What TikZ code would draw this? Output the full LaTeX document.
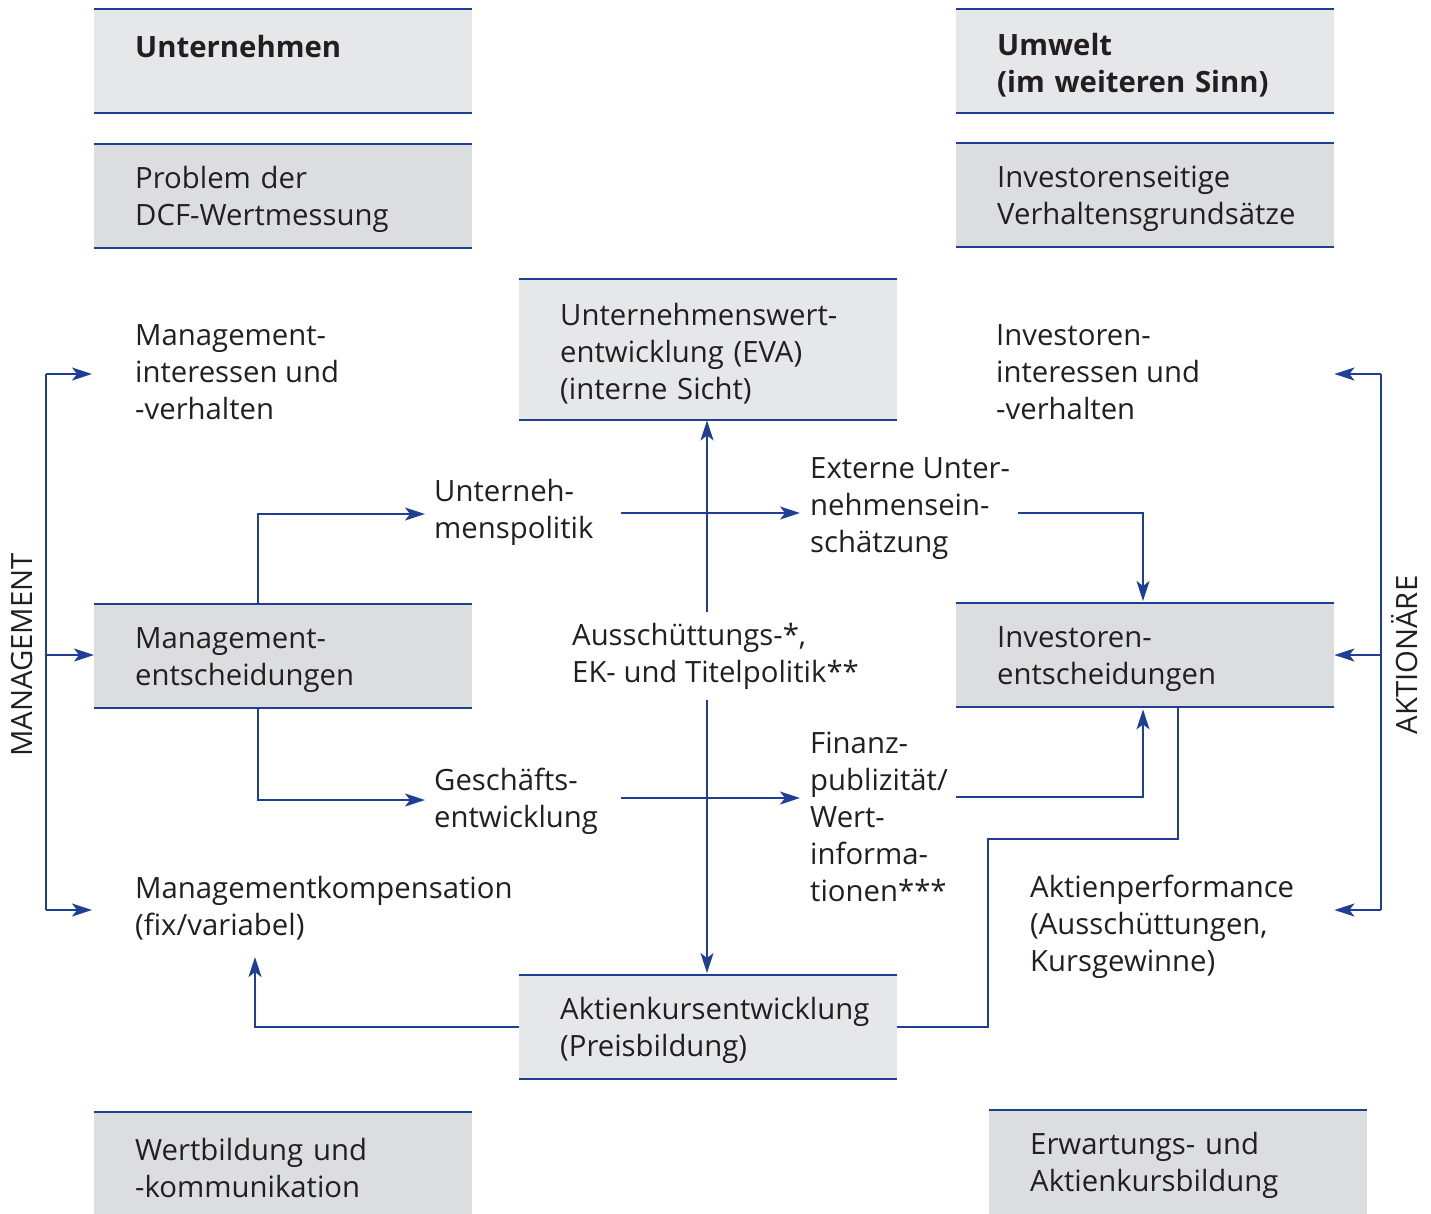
\documentclass[tikz,border=0pt]{standalone}
\usepackage{fontspec}
\setmainfont{Open Sans}
\usetikzlibrary{arrows.meta,calc}
\definecolor{bl}{HTML}{1F3E95}
\definecolor{gA}{HTML}{E6E7E8}
\definecolor{gB}{HTML}{DCDDDF}
\definecolor{tx}{HTML}{231F20}
\begin{document}
\begin{tikzpicture}[x=1pt,y=-1pt,
  font=\fontsize{29.3}{37}\selectfont, text=tx,
  box/.style={rectangle, anchor=north west, minimum width=378, minimum height=104,
    inner xsep=41, inner ysep=0, align=left, text width=296, fill=gA,
    execute at begin node={\hyphenpenalty=10000\exhyphenpenalty=10000\rule{0pt}{29.5pt}}},
  txt/.style={inner sep=0, align=left, anchor=west,
    execute at begin node={\hyphenpenalty=10000\exhyphenpenalty=10000}},
  bline/.style={draw=bl, line width=2},
  ln/.style={draw=bl, line width=1.8},
  arr/.style={draw=bl, line width=1.8, -{Stealth[length=20,width=13,inset=5]}}]
\useasboundingbox (0,0) rectangle (1431,1213);

% boxes
\node[box,fill=gA] (unt) at (94,9) {\textbf{Unternehmen}\\\mbox{}};
\node[box,fill=gB] (dcf) at (94,144) {Problem der\\DCF-Wertmessung};
\node[box,fill=gA] (umw) at (956,9) {\textbf{Umwelt}\\\textbf{(im weiteren Sinn)}};
\node[box,fill=gB] (ivs) at (956,143) {Investorenseitige\\Verhaltensgrundsätze};
\node[box,fill=gA,minimum height=141] (eva) at (519,279) {Unternehmenswert-\\entwicklung (EVA)\\(interne Sicht)};
\node[box,fill=gB] (me) at (94,604) {Management-\\entscheidungen};
\node[box,fill=gB] (ie) at (956,603) {Investoren-\\entscheidungen};
\node[box,fill=gA] (ak) at (519,975) {Aktienkursentwicklung\\(Preisbildung)};
\node[box,fill=gB] (wb) at (94,1112) {Wertbildung und\\-kommunikation};
\node[box,fill=gB] (eb) at (989,1110) {Erwartungs- und\\Aktienkursbildung};

\foreach \b in {unt,dcf,umw,ivs,eva,me,ie,ak}{
  \draw[bline] (\b.north west) -- (\b.north east);
  \draw[bline] (\b.south west) -- (\b.south east);
}
\foreach \b in {wb,eb}{
  \draw[bline] (\b.north west) -- (\b.north east);
}

% plain texts
\node[txt] (mi) at (135,372) {Management-\\interessen und\\-verhalten};
\node[txt] (ii) at (996,372) {Investoren-\\interessen und\\-verhalten};
\node[txt] (up) at (434,512) {Unterneh-\\menspolitik};
\node[txt] (ex) at (810,509) {Externe Unter-\\nehmensein-\\schätzung};
\node[txt] (as) at (572,656) {Ausschüttungs-*,\\EK- und Titelpolitik**};
\node[txt] (ge) at (434,801) {Geschäfts-\\entwicklung};
\node[txt] (fi) at (810,817) {Finanz-\\publizität/\\Wert-\\informa-\\tionen***};
\node[txt] (mk) at (135,908) {Managementkompensation\\(fix/variabel)};
\node[txt] (ap) at (1030,927) {Aktienperformance\\(Ausschüttungen,\\Kursgewinne)};

\node[rotate=90, inner sep=0] (mg) at (22,655) {MANAGEMENT};
\node[rotate=90, inner sep=0] (ar) at (1405,655) {AKTIONÄRE};

% left bracket
\coordinate (L1) at (46,374);
\coordinate (L2) at (46,655);
\coordinate (L3) at (46,910);
\draw[ln] (L1) -- (L3);
\draw[arr] (L1) -- ($(mi.west |- L1)+(-43,0)$);
\draw[arr] (L2) -- (me.west |- L2);
\draw[arr] (L3) -- ($(mk.west |- L3)+(-43,0)$);

% right bracket
\coordinate (R1) at (1381,374);
\coordinate (R2) at (1381,655);
\coordinate (R3) at (1381,910);
\draw[ln] (R1) -- (R3);
\draw[arr] (R1) -- (ie.east |- R1);
\draw[arr] (R2) -- (ie.east |- R2);
\draw[arr] (R3) -- (ie.east |- R3);

% management decisions
\coordinate (M1) at (258,514);
\coordinate (M2) at (258,800);
\draw[arr] (me.north -| M1) -- (M1) -- ($(up.west |- M1)+(-9,0)$);
\draw[arr] (me.south -| M2) -- (M2) -- ($(ge.west |- M2)+(-9,0)$);

% horizontal flows
\coordinate (H1) at (621,513);
\coordinate (H2) at (621,798);
\draw[arr] (H1) -- ($(ex.west |- H1)+(-10,0)$);
\draw[arr] (H2) -- ($(fi.west |- H2)+(-10,0)$);

% vertical flows
\coordinate (V1) at (707,612);
\coordinate (V2) at (707,700);
\draw[arr] (V1) -- (eva.south -| V1);
\draw[arr, shorten >=2] (V2) -- (ak.north -| V2);

% to investor decisions
\coordinate (E1) at (1018,513);
\coordinate (E2) at (1143,513);
\draw[arr, shorten >=2] (E1) -- (E2) -- (ie.north -| E2);
\coordinate (F1) at (956,797);
\coordinate (F2) at (1143,797);
\draw[arr, shorten >=2] (F1) -- (F2) -- (ie.south -| F2);

% investor decisions to share price
\coordinate (G1) at (1178,839);
\coordinate (G2) at (988,839);
\draw[ln] (ie.south -| G1) -- (G1) -- (G2) |- (ak.east);

% share price to compensation
\coordinate (K1) at (255,957);
\draw[arr] (ak.west) -| (K1);
\end{tikzpicture}
\end{document}
